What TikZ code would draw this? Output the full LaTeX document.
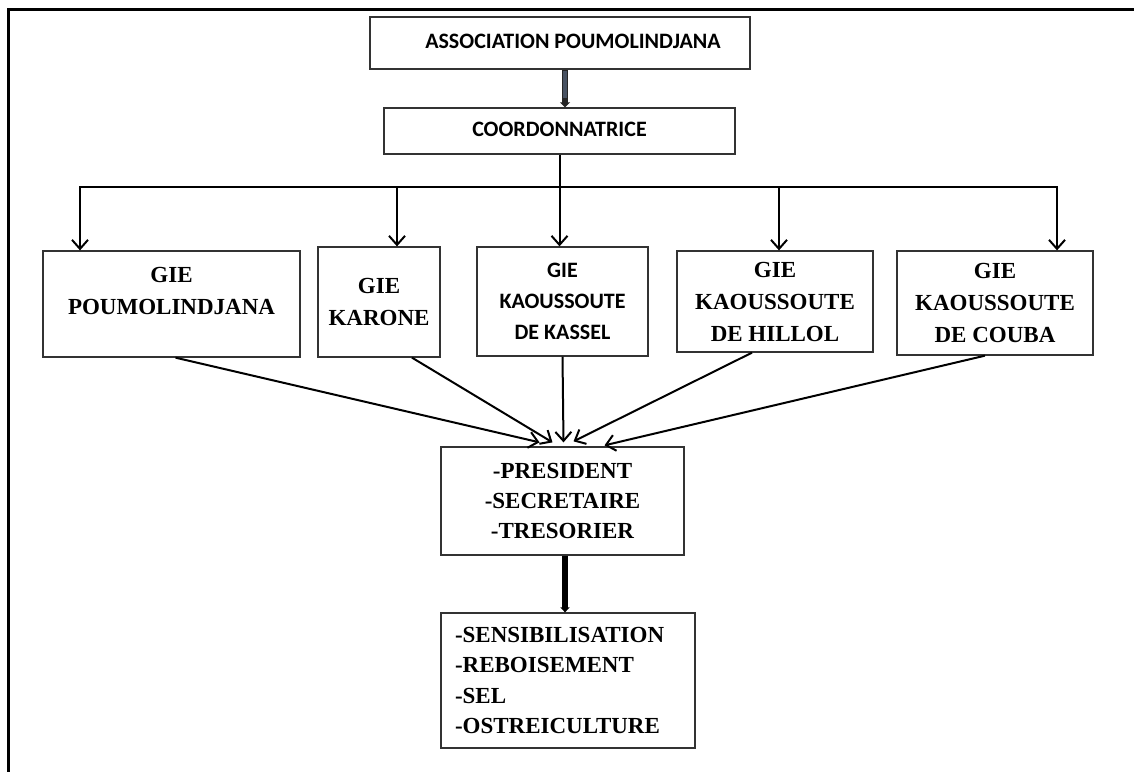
\documentclass[tikz,border=0pt]{standalone}
\usepackage{fontspec}
\setmainfont{Liberation Serif}
\newfontfamily\calib{Carlito}
\usetikzlibrary{arrows.meta}
\definecolor{shaft}{RGB}{72,82,98}
\begin{document}
\begin{tikzpicture}[x=1pt,y=-1pt,
  box/.style={draw=black!80, line width=1.3pt, rectangle, inner sep=0pt, align=center},
  sbox/.style={box, font=\calib\bfseries\fontsize{22}{31}\selectfont},
  tbox/.style={box, font=\bfseries\fontsize{23}{32}\selectfont},
  conn/.style={line width=2pt, -{Straight Barb[length=9pt,width=16pt,line width=2pt]}},
  bar/.style={line width=2pt},
]
\useasboundingbox (0,0) rectangle (1134,772);
\draw[line width=3pt] (1134,9) -- (8,9) -- (8,772);

% top boxes
\node[sbox, minimum width=380pt, minimum height=52pt] (assoc) at (560,43)
  {\raisebox{4pt}{\hspace*{26pt}ASSOCIATION POUMOLINDJANA}};
\node[sbox, minimum width=351pt, minimum height=46pt] (coord) at (559.5,131)
  {\raisebox{3pt}{COORDONNATRICE}};

% GIE boxes
\node[tbox, minimum width=257pt, minimum height=106pt] (A) at (171.5,304)
  {\begin{tabular}{@{}c@{}}GIE\\POUMOLINDJANA\\[24pt]\end{tabular}};
\node[tbox, minimum width=122pt, minimum height=110pt] (B) at (379,302)
  {GIE\\KARONE};
\node[sbox, minimum width=171pt, minimum height=109pt] (C) at (562.5,301.5)
  {GIE\\KAOUSSOUTE\\DE KASSEL};
\node[tbox, minimum width=196pt, minimum height=101pt] (D) at (775,301.5)
  {GIE\\KAOUSSOUTE\\DE HILLOL};
\node[tbox, minimum width=196pt, minimum height=104pt] (E) at (995,303)
  {GIE\\KAOUSSOUTE\\DE COUBA};

% lower boxes
\node[tbox, minimum width=243pt, minimum height=108pt, font=\bfseries\fontsize{23}{30}\selectfont] (P) at (562.5,501)
  {-PRESIDENT\\-SECRETAIRE\\-TRESORIER};
\node[tbox, minimum width=254pt, minimum height=135pt, align=left, text width=226pt, inner xsep=14pt,
  font=\bfseries\fontsize{23}{30.5}\selectfont] (S) at (568,680.5)
  {-SENSIBILISATION\\-REBOISEMENT\\-SEL\\-OSTREICULTURE};

% association -> coordonnatrice
\draw[line width=6.5pt, draw=black!85, -{Triangle[length=5pt,width=10pt]}]
  ([xshift=5pt]assoc.south) -- ([xshift=5pt]assoc.south |- coord.north);
\draw[line width=3.5pt, draw=shaft, shorten >=9pt, shorten <=1pt]
  ([xshift=5pt]assoc.south) -- ([xshift=5pt]assoc.south |- coord.north);

% distribution tree
\coordinate (hub) at (coord.south |- 0,187);
\coordinate (hl) at (80,187);
\coordinate (hb) at (397,187);
\coordinate (hd) at (779,187);
\coordinate (hr) at (1057,187);
\draw[bar] (coord.south) -- (hub);
\draw[conn] (hub) -- (hl) -- (hl |- A.north);
\draw[conn] (hub) -- (hr) -- (hr |- E.north);
\draw[conn] (hb) -- (hb |- B.north);
\draw[conn] (hub) -- (hub |- C.north);
\draw[conn] (hd) -- (hd |- D.north);

% convergence to bureau
\coordinate (t1) at ([xshift=-23pt,yshift=4pt]P.north);
\coordinate (t2) at ([xshift=-10pt,yshift=4pt]P.north);
\coordinate (t3) at ([xshift=1pt,yshift=4pt]P.north);
\coordinate (t4) at ([xshift=11pt,yshift=5pt]P.north);
\coordinate (t5) at ([xshift=42pt,yshift=1pt]P.north);
\draw[conn] ([xshift=4pt]A.south) -- (t1);
\draw[conn] ([xshift=33pt]B.south) -- (t2);
\draw[conn] (C.south) -- (t3);
\draw[conn] ([xshift=-23pt]D.south) -- (t4);
\draw[conn] ([xshift=-10pt]E.south) -- (t5);

% bureau -> activites
\draw[line width=5.5pt, -{Triangle[length=5pt,width=9pt]}]
  ([xshift=2.5pt]P.south) -- ([xshift=2.5pt]P.south |- S.north);
\end{tikzpicture}
\end{document}
